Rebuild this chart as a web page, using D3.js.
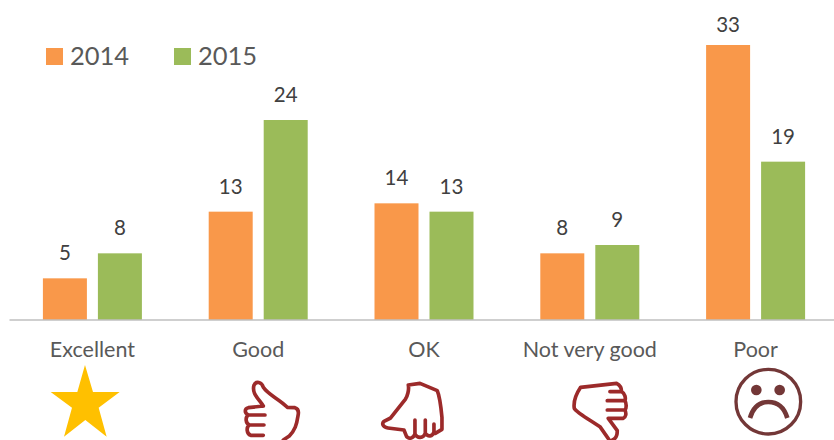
<!DOCTYPE html>
<html><head><meta charset="utf-8">
<script src="https://cdnjs.cloudflare.com/ajax/libs/d3/7.8.5/d3.min.js"></script>
<style>html,body{margin:0;padding:0;background:#fff;overflow:hidden}svg{display:block}</style>
</head><body><svg id="c" width="834" height="440"></svg>
<script>
const categories = ["Excellent","Good","OK","Not very good","Poor"];
const seriesNames = ["2014","2015"];
const values2014 = [5,13,14,8,33];
const values2015 = [8,24,13,9,19];
const seriesColors = ["#F9984A","#9BBB59"];

const FONT="Lato, Carlito, sans-serif";
const svg=d3.select("#c");
const x=d3.scaleBand().domain(categories).range([9.5,838.5]);
const y=d3.scaleLinear().domain([0,33]).range([320,45]);
const barW=44, gap=11;
const offs={ "2014":-(gap/2+barW), "2015":gap/2 };
const series=[values2014,values2015];

seriesNames.forEach((s,si)=>{
  const g=svg.append("g");
  g.selectAll("rect").data(series[si]).join("rect")
    .attr("x",(d,i)=>x(categories[i])+x.bandwidth()/2+offs[s])
    .attr("y",d=>y(d)).attr("width",barW).attr("height",d=>y(0)-y(d))
    .attr("fill",seriesColors[si]);
  g.selectAll("text").data(series[si]).join("text")
    .attr("x",(d,i)=>x(categories[i])+x.bandwidth()/2+offs[s]+barW/2)
    .attr("y",d=>Math.max(y(d)-18,32))
    .attr("text-anchor","middle").attr("font-family",FONT).attr("font-size",20.5)
    .attr("fill","#404040").text(d=>d);
});

const axis=svg.append("g").attr("transform","translate(0,320)")
  .call(d3.axisBottom(x).tickSize(0).tickPadding(22));
axis.select(".domain").attr("stroke","#BFBFBF").attr("stroke-width",1.5).attr("d","M9.5,0H834");
axis.selectAll("text").attr("font-family",FONT).attr("font-size",21.5).attr("fill","#595959");

const leg=svg.append("g");
[46,174].forEach((lx,i)=>{
  leg.append("rect").attr("x",lx).attr("y",48).attr("width",17).attr("height",17).attr("fill",seriesColors[i]);
  leg.append("text").attr("x",lx+24).attr("y",65).attr("font-family",FONT).attr("font-size",25.5)
    .attr("fill","#595959").text(seriesNames[i]);
});

// Decorative icons, drawn in 3x crop coordinates
const icons=svg.append("g").attr("transform","translate(0,330) scale(0.3333)");
icons.append("path").attr("fill","#FFC000")
  .attr("d","M255 105L279 186H359L296 233L320 320L256 270L192 320L216 233L152 186H232Z");
const red="#9C2A2A";
const hand=(tx,d)=>icons.append("path").attr("transform",`translate(${tx},0)`).attr("d",d)
  .attr("fill","none").attr("stroke",red).attr("stroke-width",11).attr("stroke-linecap","round").attr("stroke-linejoin","round");
hand(0,"M790 228C775 205 755 190 762 166C768 152 785 155 790 172C805 195 835 205 862 232L885 233C896 236 897 245 894 258C890 285 885 300 868 318L850 330M790 228L745 233C733 236 733 250 745 255H795M745 255C735 262 737 280 748 285H792M748 285C738 292 740 312 752 316H790");
hand(1080,"M145 165L180 160L232 182C240 200 243 230 246 262V298L226 310M145 165C148 180 142 200 136 208L92 264L72 274C64 282 70 292 84 294L132 300L140 320C148 328 160 326 165 312V270M165 312C172 326 190 326 196 310V270M196 310C204 322 218 320 222 306V282");
hand(1080,"M662 172L770 160C780 165 785 175 785 185H750M785 185C795 190 798 205 795 212H742M795 212C800 220 800 235 795 240H742M795 240C800 250 798 262 790 265H745M745 265L772 302C772 315 770 325 758 330M662 172C650 190 640 215 643 235C650 248 690 270 720 290L748 330");
const face=svg.append("g").attr("transform","translate(690,330) scale(0.3333)");
const brown="#733737";
face.append("circle").attr("cx",235).attr("cy",215).attr("r",97).attr("fill","none").attr("stroke",brown).attr("stroke-width",10);
face.selectAll("circle.e").data([199,269]).join("circle").attr("class","e").attr("cx",d=>d).attr("cy",180).attr("r",16).attr("fill",brown);
face.append("path").attr("d","M180 264C190 230 210 216 235 216C260 216 282 230 292 264").attr("fill","none").attr("stroke",brown).attr("stroke-width",14);
</script></body></html>
